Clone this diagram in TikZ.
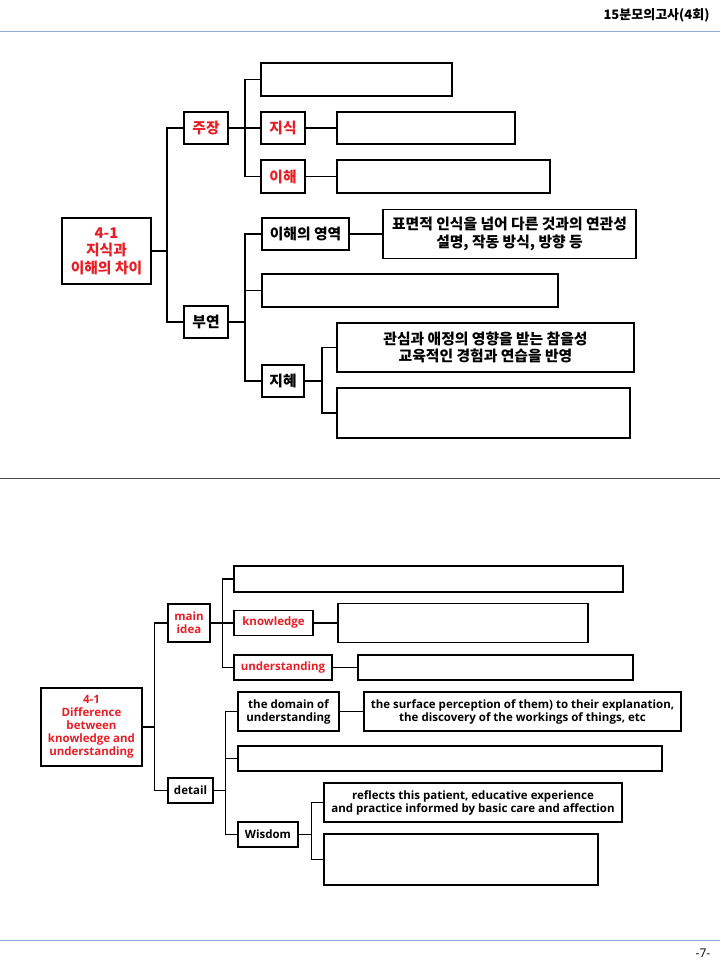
\documentclass[tikz,border=0pt]{standalone}
\usepackage{fontspec}
\usepackage{tikz}
\usetikzlibrary{positioning}
\setmainfont{Open Sans}
\newfontfamily\krfont{Noto Sans CJK KR}
\definecolor{keyred}{RGB}{232,30,38}
\definecolor{ruleblue}{RGB}{140,174,204}

\begin{document}
\begin{tikzpicture}[
  x=1pt, y=-1pt,
  kbox/.style={rectangle, draw=black, line width=1.7pt, inner sep=0pt, align=center, font=\krfont\bfseries\fontsize{14.8}{17.5}\selectfont},
  ebox/.style={rectangle, draw=black, line width=1.3pt, inner sep=0pt, align=center, font=\bfseries\fontsize{11.5}{13}\selectfont},
  klink/.style={line width=1.7pt, draw=black},
  elink/.style={line width=1.3pt, draw=black},
  hot/.style={text=keyred}
]
\useasboundingbox (0,0) rectangle (720,960);

% page frame
\node[anchor=east, font=\krfont\bfseries\fontsize{13}{14}\selectfont] (title) at (713,15) {15분모의고사(4회)};
\draw[ruleblue, line width=1pt] (0,32) -- (720,32);
\draw[black!70, line width=1pt] (0,478) -- (720,478);
\draw[ruleblue, line width=1pt] (0,940) -- (720,940);
\node[font=\fontsize{12}{13}\selectfont] (page) at (703,953) {-7-};

% upper tree
\node[kbox, hot, minimum width=89, minimum height=66] (root) at (106.5,251) {4-1\\지식과\\이해의 차이};
\node[kbox, hot, minimum width=44, minimum height=32] (claim) at (206,128) {주장};
\node[kbox, minimum width=191, minimum height=33] (blankA) at (356.5,79.5) {};
\node[kbox, hot, minimum width=44, minimum height=32] (know) at (283,128) {지식};
\node[kbox, minimum width=178, minimum height=32] (knowbox) at (426,128) {};
\node[kbox, hot, minimum width=44, minimum height=33] (under) at (283,176.5) {이해};
\node[kbox, minimum width=213, minimum height=33] (underbox) at (443.5,176.5) {};
\node[kbox, minimum width=44, minimum height=32] (supp) at (206,322) {부연};
\node[kbox, minimum width=87, minimum height=32] (area) at (305.5,234) {이해의 영역};
\node[kbox, minimum width=253, minimum height=49] (areabox) at (509.5,234) {표면적 인식을 넘어 다른 것과의 연관성\\설명, 작동 방식, 방향 등};
\node[kbox, minimum width=296, minimum height=33] (blankB) at (410,290.5) {};
\node[kbox, minimum width=42, minimum height=32] (wis) at (283,381) {지혜};
\node[kbox, minimum width=297, minimum height=49] (wisboxA) at (485.5,347.5) {관심과 애정의 영향을 받는 참을성\\교육적인 경험과 연습을 반영};
\node[kbox, minimum width=293, minimum height=50] (wisboxB) at (483.5,413) {};

\draw[klink] (root.east) -- ++(15,0) |- (claim.west);
\draw[klink] (root.east) -- ++(15,0) |- (supp.west);
\draw[klink] (claim.east) -- ++(16,0) |- (blankA.west);
\draw[klink] (claim.east) -- (know.west);
\draw[klink] (claim.east) -- ++(16,0) |- (under.west);
\draw[klink] (know.east) -- (knowbox.west);
\draw[klink] (under.east) -- (underbox.west);
\draw[klink] (supp.east) -- ++(16,0) |- (area.west);
\draw[klink] (supp.east) -- ++(16,0) |- (blankB.west);
\draw[klink] (supp.east) -- ++(16,0) |- (wis.west);
\draw[klink] (area.east) -- (areabox.west);
\draw[klink] (wis.east) -- ++(17,0) |- (wisboxA.west);
\draw[klink] (wis.east) -- ++(17,0) |- (wisboxB.west);

% lower tree
\node[ebox, hot, minimum width=101, minimum height=78] (root2) at (91.5,727) {4-1\\Difference\\between\\knowledge and\\understanding};
\node[ebox, hot, minimum width=42, minimum height=38] (main) at (189,623) {main\\idea};
\node[ebox, minimum width=389, minimum height=26] (blankC) at (428.5,579) {};
\node[ebox, hot, minimum width=79, minimum height=25] (know2) at (273.5,623) {knowledge};
\node[ebox, minimum width=250, minimum height=39] (know2box) at (463,623) {};
\node[ebox, hot, minimum width=98, minimum height=25] (under2) at (283,667.5) {understanding};
\node[ebox, minimum width=275, minimum height=25] (under2box) at (495.5,667.5) {};
\node[ebox, minimum width=45, minimum height=25] (detail) at (190.5,790.5) {detail};
\node[ebox, minimum width=101, minimum height=39] (domain) at (288.5,711.5) {the domain of\\understanding};
\node[ebox, minimum width=317, minimum height=39] (domainbox) at (522.5,711.5) {the surface perception of them) to their explanation,\\the discovery of the workings of things, etc};
\node[ebox, minimum width=424, minimum height=25] (blankD) at (450,758.5) {};
\node[ebox, minimum width=60, minimum height=25] (wis2) at (268,834.5) {Wisdom};
\node[ebox, minimum width=298, minimum height=39] (wis2boxA) at (473,802.5) {reflects this patient, educative experience\\and practice informed by basic care and affection};
\node[ebox, minimum width=274, minimum height=51] (wis2boxB) at (461,859.5) {};

\draw[elink] (root2.east) -- ++(12,0) |- (main.west);
\draw[elink] (root2.east) -- ++(12,0) |- (detail.west);
\draw[elink] (main.east) -- ++(12,0) |- (blankC.west);
\draw[elink] (main.east) -- (know2.west);
\draw[elink] (main.east) -- ++(12,0) |- (under2.west);
\draw[elink] (know2.east) -- (know2box.west);
\draw[elink] (under2.east) -- (under2box.west);
\draw[elink] (detail.east) -- ++(12,0) |- (domain.west);
\draw[elink] (detail.east) -- ++(12,0) |- (blankD.west);
\draw[elink] (detail.east) -- ++(12,0) |- (wis2.west);
\draw[elink] (domain.east) -- (domainbox.west);
\draw[elink] (wis2.east) -- ++(13,0) |- (wis2boxA.west);
\draw[elink] (wis2.east) -- ++(13,0) |- (wis2boxB.west);
\end{tikzpicture}
\end{document}
